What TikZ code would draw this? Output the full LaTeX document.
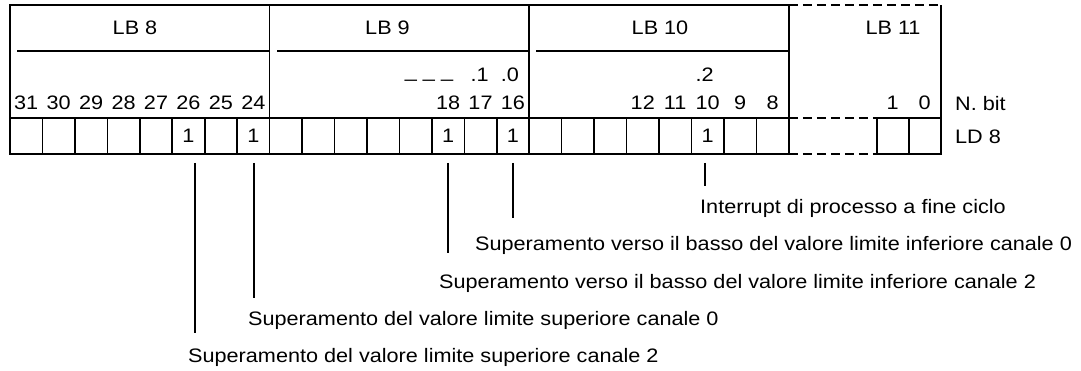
\documentclass[tikz,border=0pt]{standalone}
\usepackage{fontspec}
\setmainfont{Liberation Sans}[FakeStretch=1.11]
\usetikzlibrary{calc}
\newcommand\dfont{\fontsize{19.5}{22}\selectfont}
\tikzset{
  frame/.style={line width=1.6pt},
  dashedframe/.style={line width=1.3pt, dash pattern=on 9pt off 5pt},
  cell/.style={draw, line width=1.6pt, minimum width=32.45pt, minimum height=36pt, inner sep=0pt, anchor=center},
  lbl/.style={font=\dfont, inner sep=0pt},
  conn/.style={line width=1.6pt},
}
\begin{document}
\begin{tikzpicture}[x=1pt,y=-1pt]
\useasboundingbox (0,0) rectangle (1081,370);
% cells
\foreach \b in {31,30,...,8}{
  \pgfmathsetmacro\cx{10+(31-\b+0.5)*32.45}
  \node[cell] (c\b) at (\cx,136) {};
}
\node[cell, minimum width=32pt] (c1) at (892.7,136) {};
\node[cell, minimum width=32pt] (c0) at (924.7,136) {};
\foreach \b in {26,24,18,16,10}{
  \node[lbl] at (c\b) {1};
}
% frame
\draw[frame] (10,118) -- (10,5) -- (788.8,5) -- (788.8,118);
\draw[frame] (269.6,5) -- (269.6,118);
\draw[frame] (529.2,5) -- (529.2,118);
\draw[frame] (940.7,5) -- (940.7,118);
\draw[frame] (10,118) -- (788.8,118);
\draw[frame] (876.7,118) -- (940.7,118);
\draw[frame] (17,51) -- (269.6,51);
\draw[frame] (277,51) -- (529.2,51);
\draw[frame] (536,51) -- (788.8,51);
\draw[dashedframe] (788.8,5) -- (940.7,5);
\draw[dashedframe] (788.8,118) -- (876.7,118);
\draw[dashedframe] (788.8,154) -- (876.7,154);
% byte labels
\node[lbl, anchor=base] (lb8) at (135,34) {LB 8};
\node[lbl, anchor=base] (lb9) at (387.5,34) {LB 9};
\node[lbl, anchor=base] (lb10) at (660,34) {LB 10};
\node[lbl, anchor=base] (lb11) at (893,34) {LB 11};
% bit numbers
\foreach \b in {31,30,...,24,18,17,16,12,11,10,9,8,1,0}{
  \node[lbl, anchor=base] (n\b) at ($(c\b.north)+(0,-8)$) {\b};
}
\node[lbl, anchor=base] (d1) at ($(c17.north)+(-1,-36)$) {.1};
\node[lbl, anchor=base] (d0) at ($(c16.north)+(-3,-36)$) {.0};
\node[lbl, anchor=base] (d2) at ($(c10.north)+(-3,-36)$) {.2};
\node[lbl, anchor=base] (us) at (429,77) {\_ \_ \_};
\node[lbl, anchor=base west] (nbit) at (955,110) {N. bit};
\node[lbl, anchor=base west] (ld8) at (955,143) {LD 8};
% connectors
\coordinate (e10) at ($(c10.south)+(-2.5,31)$);
\coordinate (e16) at ($(c16.south)+(0,63)$);
\coordinate (e18) at ($(c18.south)+(0,98)$);
\coordinate (e24) at ($(c24.south)+(0.5,143)$);
\coordinate (e26) at ($(c26.south)+(6.5,178)$);
\draw[conn] ($(c10.south)+(-2.5,8)$) -- (e10);
\draw[conn] ($(c16.south)+(0,8)$) -- (e16);
\draw[conn] ($(c18.south)+(0,8)$) -- (e18);
\draw[conn] ($(c24.south)+(0.5,8)$) -- (e24);
\draw[conn] ($(c26.south)+(6.5,8)$) -- (e26);
% texts
\node[lbl, anchor=base west] (t10) at (700,213) {Interrupt di processo a fine ciclo};
\node[lbl, anchor=base west] (t16) at (475,250) {Superamento verso il basso del valore limite inferiore canale 0};
\node[lbl, anchor=base west] (t18) at (439,288) {Superamento verso il basso del valore limite inferiore canale 2};
\node[lbl, anchor=base west] (t24) at (248,325) {Superamento del valore limite superiore canale 0};
\node[lbl, anchor=base west] (t26) at (188,362) {Superamento del valore limite superiore canale 2};
\end{tikzpicture}
\end{document}
